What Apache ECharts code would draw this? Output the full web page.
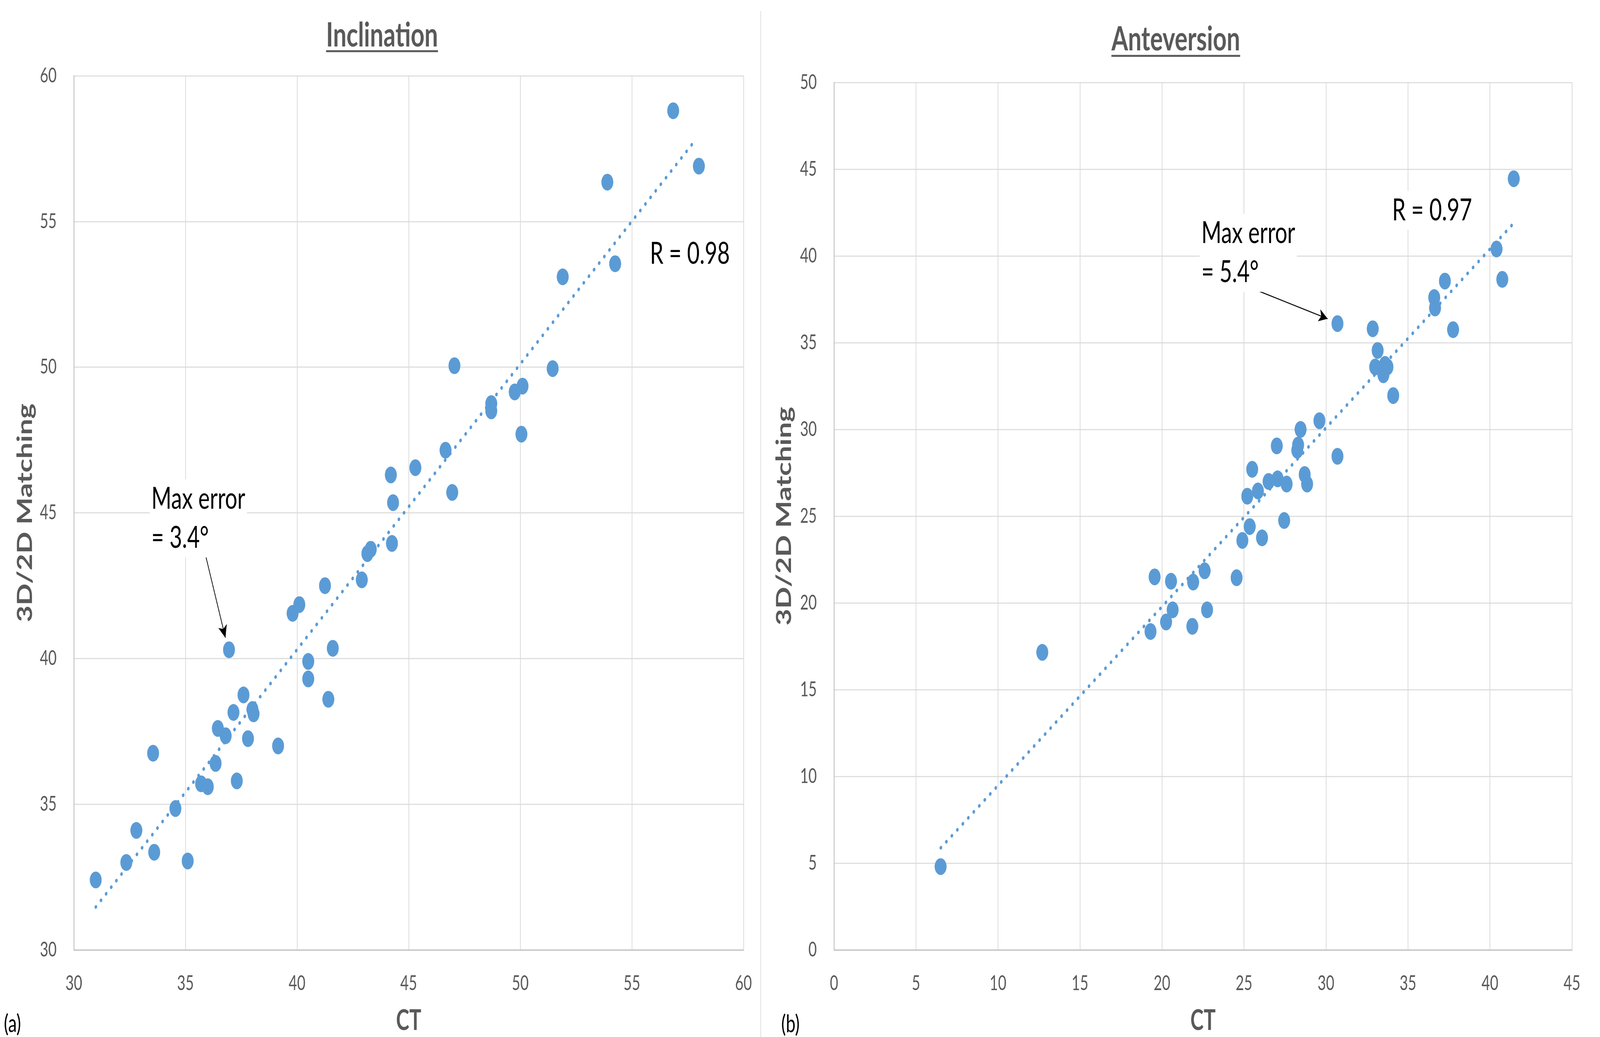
<!DOCTYPE html>
<html><head><meta charset="utf-8">
<script src="https://cdn.jsdelivr.net/npm/echarts@6/dist/echarts.min.js"></script>
<style>html,body{margin:0;padding:0;background:#fff;overflow:hidden}#c{width:5763px;height:2654px;transform-origin:0 0}</style>
</head><body><div id="c"></div>
<script>
// ---------- data ----------
const inclinationCT    = [30.98,32.35,32.8,33.6,33.55,34.55,35.1,35.7,36.0,36.35,37.3,36.45,36.8,37.15,37.6,38.0,38.05,37.8,39.15,36.95,39.8,40.1,41.25,41.6,40.5,40.5,41.4,42.9,43.15,43.3,44.25,44.2,44.3,45.3,46.65,46.95,47.05,48.7,48.7,49.75,50.1,50.05,51.45,51.9,53.9,54.25,56.85,58.0];
const inclinationMatch = [32.4,33.0,34.1,33.35,36.75,34.85,33.05,35.7,35.6,36.4,35.8,37.6,37.35,38.15,38.75,38.25,38.1,37.25,37.0,40.3,41.55,41.85,42.5,40.35,39.9,39.3,38.6,42.7,43.6,43.75,43.95,46.3,45.35,46.55,47.15,45.7,50.05,48.75,48.5,49.15,49.35,47.7,49.95,53.1,56.35,53.55,58.8,56.9];
const anteversionCT    = [6.5,12.7,19.3,19.55,20.25,20.65,20.55,21.85,21.9,22.75,22.6,24.55,24.9,25.35,26.1,27.45,25.2,25.85,25.5,26.5,27.05,27.6,27.0,28.3,28.25,28.45,28.7,28.85,29.6,30.7,30.7,32.85,33.15,33.0,33.5,33.75,33.6,34.1,36.6,36.65,37.25,37.75,40.4,40.75,41.45];
const anteversionMatch = [4.8,17.15,18.35,21.5,18.9,19.6,21.25,18.65,21.2,19.6,21.85,21.45,23.6,24.4,23.75,24.75,26.15,26.45,27.7,27.0,27.15,26.85,29.05,29.1,28.8,30.0,27.4,26.85,30.5,28.45,36.1,35.8,34.55,33.6,33.15,33.6,33.75,31.95,37.6,37.0,38.55,35.75,40.4,38.65,44.45];

// trend line end points (as drawn in the picture)
const inclinationTrend = [[30.98,31.47],[57.83,57.78]];
const anteversionTrend = [[6.51,5.88],[41.46,41.90]];

// tick labels
const inclinationXTicks = [30,35,40,45,50,55,60];
const inclinationYTicks = [30,35,40,45,50,55,60];
const anteversionXTicks = [0,5,10,15,20,25,30,35,40,45];
const anteversionYTicks = [0,5,10,15,20,25,30,35,40,45,50];

// annotations (data coordinates)
const titles = ['Inclination','Anteversion'];
const inclinationNotes = [{text:'Max error\n= 3.4°', at:[33.40,44.81]},{text:'R = 0.98', at:[55.73,53.89]}];
const anteversionNotes = [{text:'Max error\n= 5.4°', at:[22.30,40.18]},{text:'R = 0.97', at:[33.93,42.62]}];
const inclinationArrow = [[35.91,43.51],[36.79,40.71]];
const anteversionArrow = [[25.75,38.03],[30.10,36.38]];

// ---------- fit the 5763x2654 drawing into the actual window ----------
const W = 5763, H = 2654;
const box = document.getElementById('c');
box.style.transform = 'scale(' + (window.innerWidth / W) + ',' + (window.innerHeight / H) + ')';

// ---------- chart ----------
const BLUE = '#5b9bd5', GRID = '#d9d9d9', AXIS = '#bfbfbf', TXT = '#595959', FONT = 'Lato';
const zip = (a,b) => a.map((v,i)=>[v,b[i]]);

function xAxis(ticks, gi){
  return {type:'value', gridIndex:gi, min:ticks[0], max:ticks[ticks.length-1], interval:ticks[1]-ticks[0],
    name:'CT', nameLocation:'middle', nameGap:146,
    nameTextStyle:{fontFamily:FONT, fontWeight:'bold', fontSize:72, color:TXT},
    axisLine:{show:true, onZero:false, lineStyle:{color:AXIS, width:3}}, axisTick:{show:false},
    axisLabel:{fontFamily:FONT, fontSize:52, color:TXT, margin:60},
    splitLine:{show:true, lineStyle:{color:GRID, width:2.5}}};
}
function yAxis(ticks, gi, gap){
  return {type:'value', gridIndex:gi, min:ticks[0], max:ticks[ticks.length-1], interval:ticks[1]-ticks[0],
    name:'3D/2D Matching', nameLocation:'middle', nameGap:gap, nameRotate:90,
    nameTextStyle:{fontFamily:FONT, fontWeight:'bold', fontSize:74, color:TXT},
    axisLine:{show:true, onZero:false, lineStyle:{color:AXIS, width:3}}, axisTick:{show:false},
    axisLabel:{fontFamily:FONT, fontSize:52, color:TXT, margin:62},
    splitLine:{show:true, lineStyle:{color:GRID, width:2.5}}};
}
function arrowLine(a){
  return {silent:true, animation:false, symbol:['none','arrow'], label:{show:false},
    lineStyle:{color:'#000', width:2.5, type:'solid'},
    data:[[{coord:a[0], symbol:'none'},{coord:a[1], symbol:'arrow', symbolSize:[24,32]}]]};
}
const trendStyle = {color:BLUE, width:9, type:[1,24], cap:'round', opacity:1};

const chart = echarts.init(box, null, {renderer:'canvas', width:W, height:H});
chart.setOption({
  backgroundColor:'#fff', animation:false,
  grid:[{left:266, top:194, width:2412, height:2238},{left:3004, top:211, width:2658, height:2235}],
  xAxis:[xAxis(inclinationXTicks,0), xAxis(anteversionXTicks,1)],
  yAxis:[yAxis(inclinationYTicks,0,138), yAxis(anteversionYTicks,1,142)],
  series:[
    {type:'scatter', xAxisIndex:0, yAxisIndex:0, data:zip(inclinationCT,inclinationMatch), symbolSize:43, itemStyle:{color:BLUE, opacity:1}, z:2},
    {type:'line', xAxisIndex:0, yAxisIndex:0, data:inclinationTrend, showSymbol:false, symbol:'none', lineStyle:trendStyle, z:3, markLine:arrowLine(inclinationArrow)},
    {type:'scatter', xAxisIndex:1, yAxisIndex:1, data:zip(anteversionCT,anteversionMatch), symbolSize:43, itemStyle:{color:BLUE, opacity:1}, z:2},
    {type:'line', xAxisIndex:1, yAxisIndex:1, data:anteversionTrend, showSymbol:false, symbol:'none', lineStyle:trendStyle, z:3, markLine:arrowLine(anteversionArrow)}
  ]
});

// ---------- text overlays ----------
const ctx = document.createElement('canvas').getContext('2d');
function textWidth(t, font){ ctx.font = font; return ctx.measureText(t).width; }
const titleFont = 'bold 86px Lato';
const els = [];
[[titles[0],1376,91,131],[titles[1],4235,101,143]].forEach(([t,cx,cy,uy])=>{
  const w = textWidth(t,titleFont);
  els.push({type:'text', x:cx, y:cy, style:{text:t, font:titleFont, fill:TXT, align:'center', verticalAlign:'middle'}, z:10});
  els.push({type:'rect', shape:{x:cx-w/2, y:uy-2.5, width:w, height:5}, style:{fill:TXT}, z:10});
});
function notes(list, gi){
  list.forEach(n=>{
    const p = chart.convertToPixel({gridIndex:gi}, n.at);
    els.push({type:'text', x:p[0], y:p[1], style:{text:n.text, font:'78px Lato', fill:'#000', align:'left', verticalAlign:'middle', lineHeight:100, backgroundColor:'#fff', padding:[0,6]}, z:20});
  });
}
notes(inclinationNotes,0);
notes(anteversionNotes,1);
els.push({type:'line', shape:{x1:2740,y1:28,x2:2740,y2:2654}, style:{stroke:GRID, lineWidth:2.5}, z:1});
els.push({type:'text', x:14, y:2621, style:{text:'(a)', font:'62px Lato', fill:'#000', align:'left', verticalAlign:'middle'}, z:10});
els.push({type:'text', x:2814, y:2622, style:{text:'(b)', font:'62px Lato', fill:'#000', align:'left', verticalAlign:'middle'}, z:10});
chart.setOption({graphic:{elements:els}});
</script></body></html>
